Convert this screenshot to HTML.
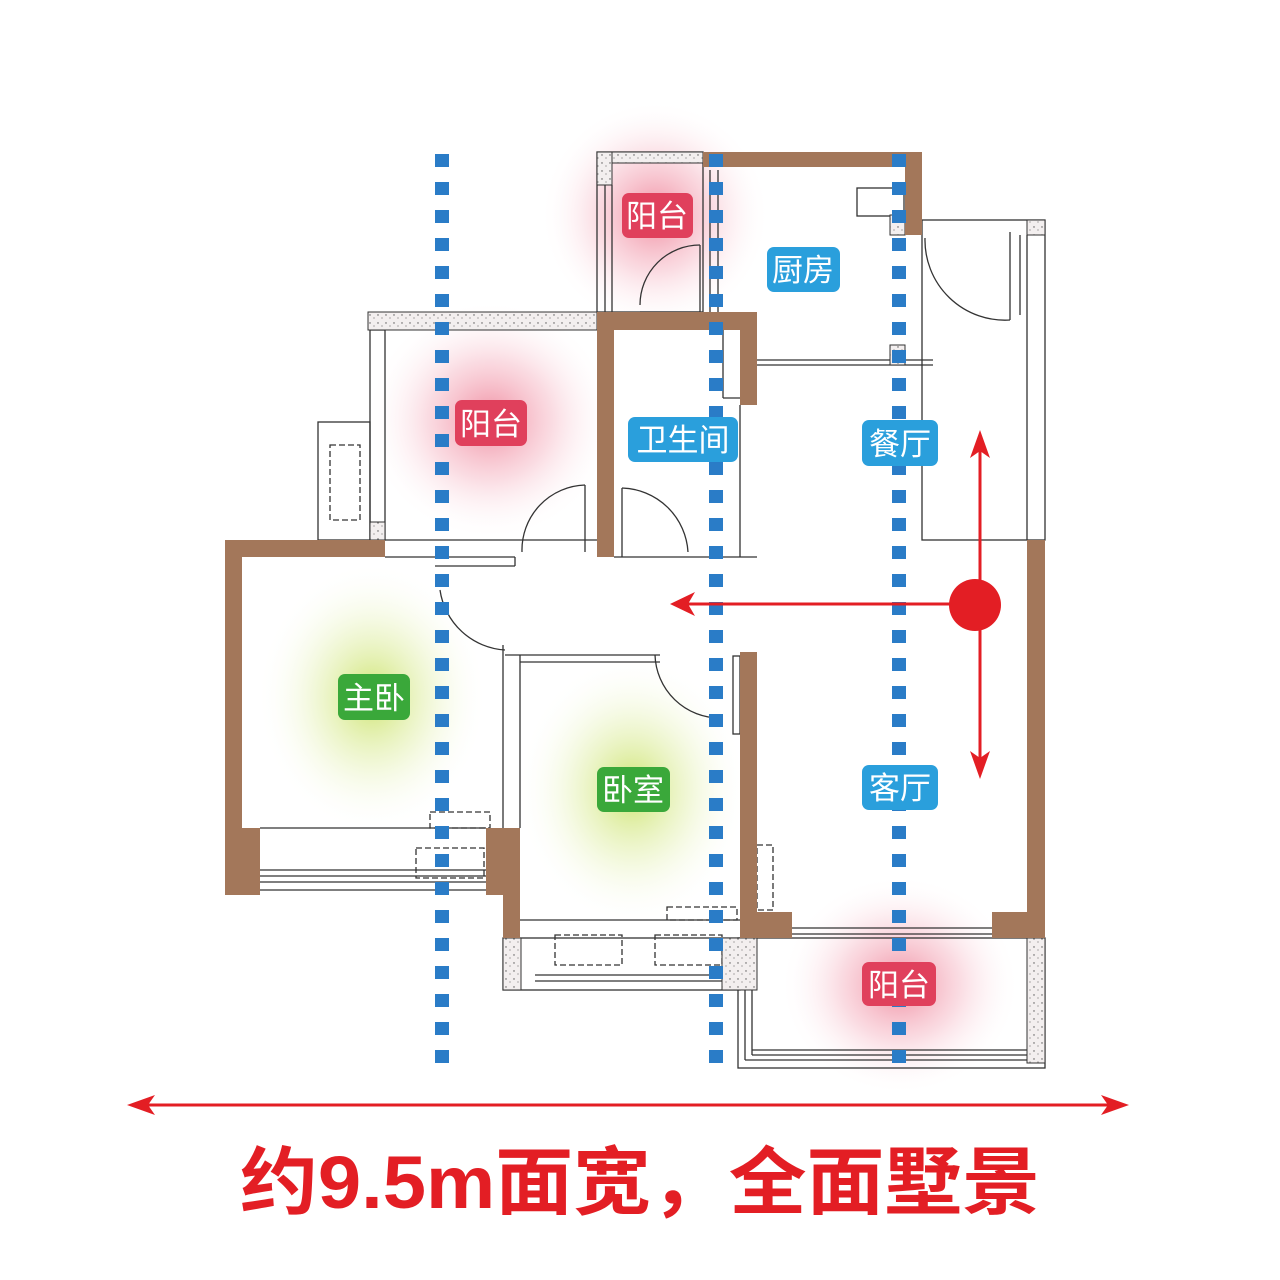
<!DOCTYPE html>
<html><head><meta charset="utf-8"><style>
html,body{margin:0;padding:0;background:#fff;}
svg{display:block}
.lbl{font-family:"Liberation Sans","Noto Sans CJK SC",sans-serif;font-size:31px;fill:#fff;text-anchor:middle}
</style></head><body>
<svg width="1280" height="1280" viewBox="0 0 1280 1280" xmlns="http://www.w3.org/2000/svg">
<defs>
<radialGradient id="pk"><stop offset="0" stop-color="#e8506e" stop-opacity="0.65"/><stop offset="0.5" stop-color="#f08aa0" stop-opacity="0.3"/><stop offset="1" stop-color="#fff" stop-opacity="0"/></radialGradient>
<radialGradient id="gr"><stop offset="0" stop-color="#b8d830" stop-opacity="0.7"/><stop offset="0.5" stop-color="#d8ea90" stop-opacity="0.35"/><stop offset="1" stop-color="#fff" stop-opacity="0"/></radialGradient>
<pattern id="dots" width="8" height="8" patternUnits="userSpaceOnUse"><rect width="8" height="8" fill="#f3efef"/><circle cx="2" cy="3" r="0.7" fill="#555"/><circle cx="6" cy="6" r="0.6" fill="#777"/></pattern>
</defs>
<rect width="1280" height="1280" fill="#fff"/>
<ellipse cx="655" cy="215" rx="115" ry="115" fill="url(#pk)"/>
<ellipse cx="490" cy="420" rx="125" ry="120" fill="url(#pk)"/>
<ellipse cx="900" cy="985" rx="120" ry="110" fill="url(#pk)"/>
<ellipse cx="372" cy="697" rx="115" ry="135" fill="url(#gr)"/>
<ellipse cx="632" cy="790" rx="115" ry="135" fill="url(#gr)"/>

<g fill="none" stroke="#333" stroke-width="1.3">
<rect x="597" y="152" width="106" height="160"/>
<line x1="605" y1="185" x2="605" y2="312"/><line x1="612" y1="185" x2="612" y2="312"/>
<line x1="710" y1="170" x2="710" y2="312"/><line x1="718" y1="170" x2="718" y2="312"/>
<path d="M640 305 A60 60 0 0 1 700 245"/><line x1="700" y1="245" x2="700" y2="312"/>
<line x1="640" y1="312" x2="700" y2="312"/><line x1="640" y1="318" x2="700" y2="318"/><line x1="640" y1="324" x2="700" y2="324"/>
<rect x="857" y="188" width="47" height="28"/>
<line x1="757" y1="360" x2="933" y2="360"/><line x1="757" y1="365" x2="933" y2="365"/>
<rect x="922" y="220" width="123" height="320"/>
<line x1="1020" y1="235" x2="1020" y2="315"/><line x1="1027" y1="235" x2="1027" y2="540"/>
<path d="M925 238 A80 80 0 0 0 1010 320"/><line x1="1010" y1="232" x2="1010" y2="320"/>
<rect x="370" y="330" width="15" height="210"/>
<rect x="318" y="422" width="52" height="118"/><rect x="330" y="445" width="30" height="75" stroke-dasharray="6 3"/>
<line x1="385" y1="540" x2="597" y2="540"/><line x1="385" y1="557" x2="515" y2="557"/>
<line x1="515" y1="557" x2="515" y2="566"/><line x1="435" y1="566" x2="515" y2="566"/>
<path d="M522 552 A65 65 0 0 1 585 485"/><line x1="585" y1="485" x2="585" y2="552"/>
<line x1="614" y1="557" x2="757" y2="557"/><line x1="740" y1="405" x2="740" y2="557"/>
<line x1="723" y1="330" x2="723" y2="398"/><line x1="723" y1="398" x2="740" y2="398"/>
<path d="M688 552 A68 68 0 0 0 622 488"/><line x1="622" y1="488" x2="622" y2="557"/>
<path d="M440 590 A70 70 0 0 0 505 650"/>
<line x1="503" y1="645" x2="503" y2="828"/><line x1="520" y1="655" x2="520" y2="828"/>
<line x1="505" y1="655" x2="660" y2="655"/><line x1="520" y1="662" x2="660" y2="662"/>
<path d="M655 655 A65 65 0 0 0 720 718"/>
<rect x="733" y="656" width="7" height="78"/>
<line x1="260" y1="828" x2="486" y2="828"/>
<line x1="260" y1="870" x2="486" y2="870"/><line x1="260" y1="876" x2="486" y2="876"/><line x1="260" y1="882" x2="486" y2="882"/><line x1="260" y1="890" x2="486" y2="890"/>
<rect x="430" y="812" width="60" height="16" stroke-dasharray="6 3"/>
<rect x="416" y="848" width="68" height="30" stroke-dasharray="6 3"/>
<line x1="520" y1="920" x2="740" y2="920"/>
<rect x="503" y="938" width="237" height="52"/>
<line x1="535" y1="975" x2="740" y2="975"/><line x1="535" y1="981" x2="740" y2="981"/>
<rect x="667" y="907" width="70" height="13" stroke-dasharray="6 3"/>
<rect x="555" y="935" width="67" height="30" stroke-dasharray="6 3"/>
<rect x="655" y="935" width="67" height="30" stroke-dasharray="6 3"/>
<rect x="757" y="845" width="16" height="65" stroke-dasharray="6 3"/>
<line x1="792" y1="928" x2="992" y2="928"/><line x1="792" y1="934" x2="992" y2="934"/>
<rect x="738" y="938" width="307" height="130"/>
<line x1="745" y1="990" x2="745" y2="1060"/><line x1="752" y1="990" x2="752" y2="1055"/>
<line x1="745" y1="1060" x2="1027" y2="1060"/><line x1="752" y1="1055" x2="1027" y2="1055"/><line x1="752" y1="1050" x2="1027" y2="1050"/>
</g>
<g fill="url(#dots)" stroke="#333" stroke-width="1">
<rect x="597" y="152" width="106" height="11"/><rect x="597" y="152" width="15" height="33"/>
<rect x="368" y="312" width="229" height="18"/>
<rect x="370" y="522" width="15" height="18"/>
<rect x="890" y="215" width="15" height="20"/>
<rect x="890" y="345" width="15" height="20"/>
<rect x="503" y="938" width="18" height="52"/>
<rect x="722" y="938" width="35" height="52"/>
<rect x="1027" y="938" width="18" height="125"/>
<rect x="1027" y="220" width="18" height="15"/>
</g>
<g fill="#a3775a">
<rect x="703" y="152" width="219" height="15"/><rect x="905" y="152" width="17" height="83"/>
<rect x="597" y="312" width="160" height="18"/><rect x="597" y="312" width="17" height="245"/><rect x="740" y="312" width="17" height="93"/>
<rect x="225" y="540" width="160" height="17"/><rect x="225" y="540" width="17" height="355"/><rect x="225" y="828" width="35" height="67"/>
<rect x="486" y="828" width="34" height="67"/><rect x="503" y="828" width="17" height="110"/>
<rect x="740" y="652" width="17" height="286"/><rect x="740" y="912" width="52" height="26"/><rect x="992" y="912" width="53" height="26"/>
<rect x="1027" y="540" width="18" height="398"/>
</g>
<g stroke="#2a7cc7" stroke-width="14" stroke-dasharray="13 15">
<line x1="442" y1="154" x2="442" y2="1070"/>
<line x1="716" y1="154" x2="716" y2="1070"/>
<line x1="899" y1="154" x2="899" y2="1070"/>
</g>
<g stroke="#e31e24" stroke-width="3" fill="none">
<line x1="960" y1="604" x2="680" y2="604"/>
<line x1="980" y1="445" x2="980" y2="765"/>
<line x1="140" y1="1105" x2="1116" y2="1105"/>
</g>
<g fill="#e31e24">
<polygon points="670,604 695,592 688,604 695,616"/>
<polygon points="980,430 990,458 980,451 970,458"/>
<polygon points="980,779 990,751 980,758 970,751"/>
<polygon points="127,1105 155,1095 148,1105 155,1115"/>
<polygon points="1129,1105 1101,1095 1108,1105 1101,1115"/>
</g>
<circle cx="975" cy="605" r="26" fill="#e31e24"/>
<rect x="622" y="193" width="71" height="45" rx="7" fill="#e0405c"/><text class="lbl" x="657" y="227">阳台</text>
<rect x="767" y="247" width="73" height="45" rx="7" fill="#2a9fdc"/><text class="lbl" x="803" y="281">厨房</text>
<rect x="455" y="400" width="72" height="46" rx="7" fill="#e0405c"/><text class="lbl" x="491" y="435">阳台</text>
<rect x="628" y="417" width="110" height="45" rx="7" fill="#2a9fdc"/><text class="lbl" x="683" y="451">卫生间</text>
<rect x="862" y="420" width="76" height="46" rx="7" fill="#2a9fdc"/><text class="lbl" x="900" y="455">餐厅</text>
<rect x="338" y="674" width="72" height="46" rx="7" fill="#3aa83a"/><text class="lbl" x="374" y="709">主卧</text>
<rect x="597" y="767" width="73" height="45" rx="7" fill="#3aa83a"/><text class="lbl" x="633" y="801">卧室</text>
<rect x="862" y="765" width="76" height="45" rx="7" fill="#2a9fdc"/><text class="lbl" x="900" y="799">客厅</text>
<rect x="862" y="962" width="74" height="44" rx="7" fill="#e0405c"/><text class="lbl" x="899" y="996">阳台</text>
<text x="240" y="1208" textLength="800" lengthAdjust="spacingAndGlyphs" font-family="'Liberation Sans','Noto Sans CJK SC',sans-serif" font-weight="bold" font-size="74" fill="#e31e24">约9.5m面宽，全面墅景</text>
</svg>
</body></html>
